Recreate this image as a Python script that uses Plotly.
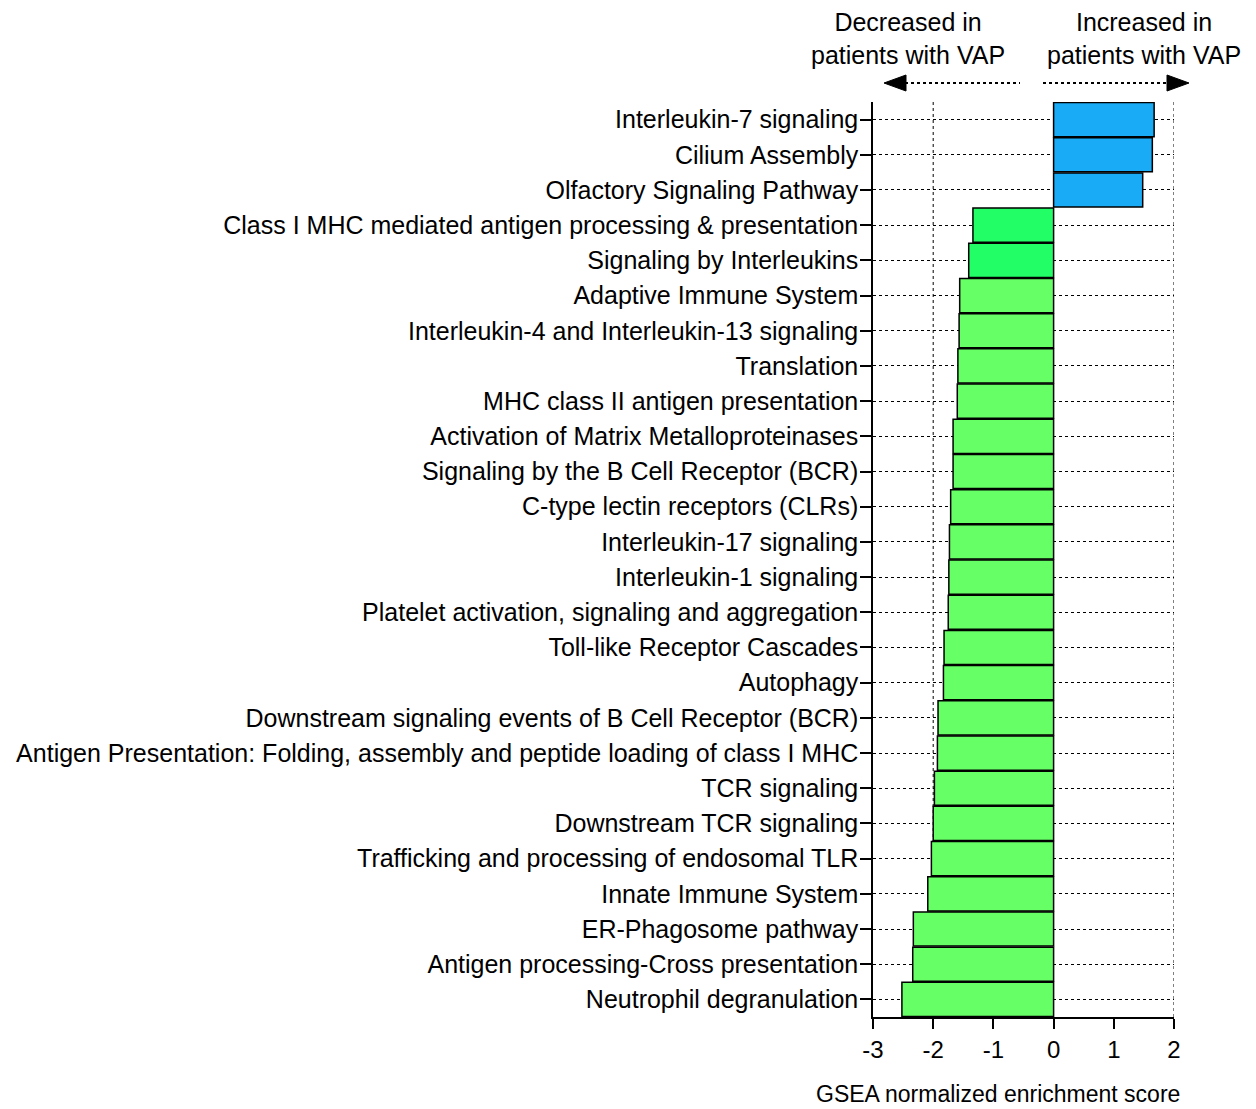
import plotly.graph_objects as go

# Reactome pathways, listed top to bottom
pathways = [
    "Interleukin-7 signaling",
    "Cilium Assembly",
    "Olfactory Signaling Pathway",
    "Class I MHC mediated antigen processing & presentation",
    "Signaling by Interleukins",
    "Adaptive Immune System",
    "Interleukin-4 and Interleukin-13 signaling",
    "Translation",
    "MHC class II antigen presentation",
    "Activation of Matrix Metalloproteinases",
    "Signaling by the B Cell Receptor (BCR)",
    "C-type lectin receptors (CLRs)",
    "Interleukin-17 signaling",
    "Interleukin-1 signaling",
    "Platelet activation, signaling and aggregation",
    "Toll-like Receptor Cascades",
    "Autophagy",
    "Downstream signaling events of B Cell Receptor (BCR)",
    "Antigen Presentation: Folding, assembly and peptide loading of class I MHC",
    "TCR signaling",
    "Downstream TCR signaling",
    "Trafficking and processing of endosomal TLR",
    "Innate Immune System",
    "ER-Phagosome pathway",
    "Antigen processing-Cross presentation",
    "Neutrophil degranulation",
]

# GSEA normalized enrichment scores
nes = [
    1.67, 1.64, 1.48,
    -1.34, -1.41, -1.56, -1.57, -1.59, -1.60, -1.67, -1.67, -1.71, -1.73,
    -1.74, -1.75, -1.82, -1.83, -1.92, -1.93, -1.98, -2.00, -2.03, -2.09,
    -2.33, -2.34, -2.52,
]

BLUE = "#19abf5"
GREEN_TOP = "#22ff66"
GREEN = "#66ff66"
colors = [BLUE if v > 0 else GREEN for v in nes]
colors[3] = GREEN_TOP
colors[4] = GREEN_TOP

x_ticks = [-3, -2, -1, 0, 1, 2]
x_range = [-3, 2]
grid_x = [-2, 2]

FONT = "Liberation Sans, Arial, sans-serif"

fig = go.Figure(
    go.Bar(
        x=nes,
        y=pathways,
        orientation="h",
        marker=dict(color=colors, line=dict(color="black", width=1.5)),
        width=0.97,
    )
)

# plot-area geometry in pixels (used for the header arrows)
L, R, T, B = 873, 82, 102, 92
W, H = 1256, 1109
pw, ph = W - L - R, H - T - B


def px(xp):
    return (xp - L) / pw


def py(yp):
    return (H - B - yp) / ph


shapes = []
for gx in grid_x:
    shapes.append(dict(type="line", xref="x", yref="paper", x0=gx, x1=gx, y0=0, y1=1,
                       line=dict(color="black", width=1, dash="dot"), layer="below"))

# header arrows: dotted shafts with solid heads
ay = 83
shapes.append(dict(type="line", xref="paper", yref="paper", x0=px(905), x1=px(1020),
                   y0=py(ay), y1=py(ay), line=dict(color="black", width=2, dash="dot")))
shapes.append(dict(type="path", xref="paper", yref="paper",
                   path=f"M {px(884)} {py(ay)} L {px(906)} {py(ay - 8)} L {px(906)} {py(ay + 8)} Z",
                   fillcolor="black", line=dict(color="black", width=1)))
shapes.append(dict(type="line", xref="paper", yref="paper", x0=px(1043), x1=px(1167),
                   y0=py(ay), y1=py(ay), line=dict(color="black", width=2, dash="dot")))
shapes.append(dict(type="path", xref="paper", yref="paper",
                   path=f"M {px(1189)} {py(ay)} L {px(1167)} {py(ay - 8)} L {px(1167)} {py(ay + 8)} Z",
                   fillcolor="black", line=dict(color="black", width=1)))

annotations = [
    dict(text="Decreased in<br>patients with VAP", xref="paper", yref="paper",
         x=px(908), y=py(38), xanchor="center", yanchor="middle", showarrow=False,
         font=dict(size=25, color="black", family=FONT)),
    dict(text="Increased in<br>patients with VAP", xref="paper", yref="paper",
         x=px(1144), y=py(38), xanchor="center", yanchor="middle", showarrow=False,
         font=dict(size=25, color="black", family=FONT)),
    dict(text="GSEA normalized enrichment score", xref="paper", yref="paper",
         x=px(998), y=py(1094), xanchor="center", yanchor="middle", showarrow=False,
         font=dict(size=23, color="black", family=FONT)),
]

fig.update_layout(
    width=W, height=H,
    margin=dict(l=L, r=R, t=T, b=B, pad=0),
    paper_bgcolor="white", plot_bgcolor="white",
    showlegend=False,
    bargap=0.03,
    font=dict(family=FONT, color="black"),
    shapes=shapes,
    annotations=annotations,
)

fig.update_xaxes(
    range=x_range, tickvals=x_ticks, ticktext=[str(t) for t in x_ticks],
    showgrid=False, zeroline=False,
    showline=True, linecolor="black", linewidth=1.5,
    ticks="outside", ticklen=10, tickwidth=1.5, tickcolor="black",
    tickfont=dict(size=24, family=FONT, color="black"),
)

fig.update_yaxes(
    categoryorder="array", categoryarray=pathways[::-1],
    showgrid=True, gridcolor="black", gridwidth=1, griddash="dot",
    showline=True, linecolor="black", linewidth=1.5,
    ticks="outside", ticklen=11, tickwidth=1.5, tickcolor="black",
    ticklabelstandoff=-3,
    tickfont=dict(size=25, family=FONT, color="black"),
    range=[-0.5, len(pathways) - 0.5],
)

fig.write_html("out.html")
